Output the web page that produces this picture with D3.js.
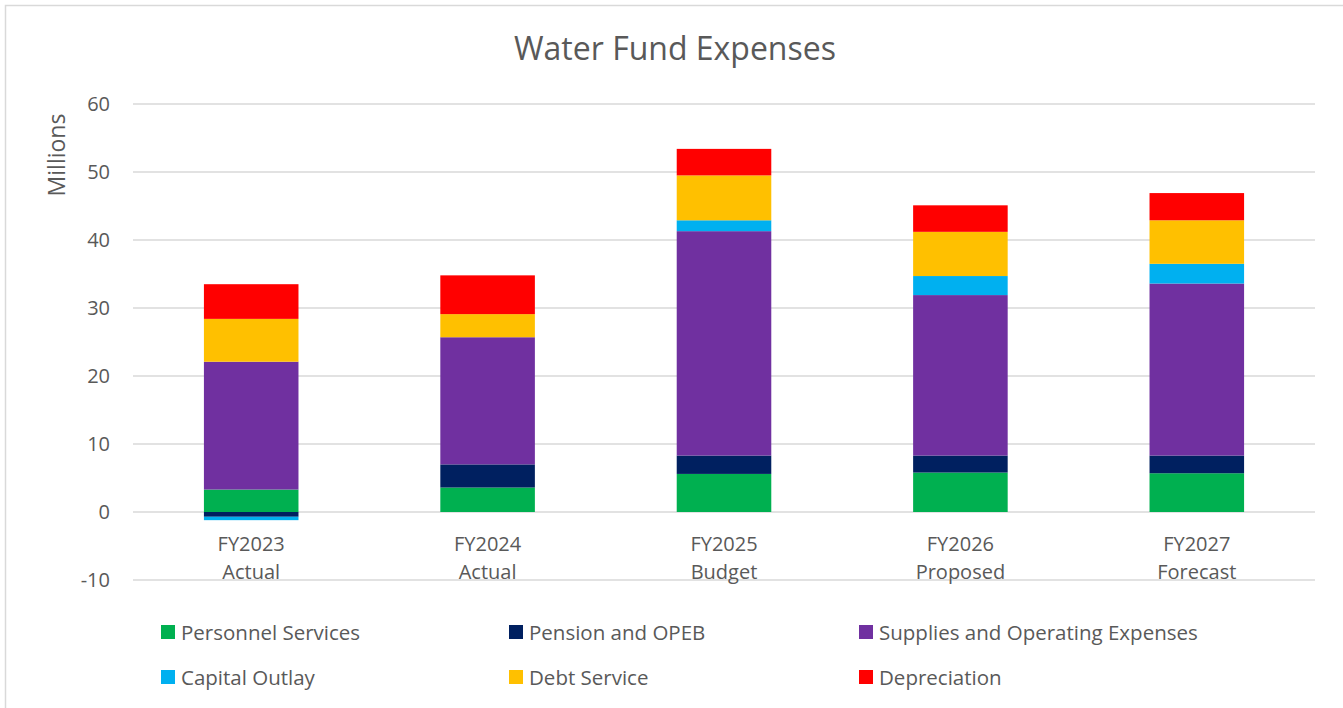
<!DOCTYPE html>
<html>
<head>
    <meta charset="utf-8">
    <title>Water Fund Expenses</title>
    <style>
        body {
            margin: 0;
            padding: 0;
            background: #fff;
            font-family: "Open Sans", sans-serif;
        }
        #chart {
            width: 1343px;
            height: 708px;
        }
    </style>
</head>
<body>
    <div id="chart"></div>

    <script src="https://d3js.org/d3.v7.min.js"></script>
    <script>
        // values in millions
        const categories = ['FY2023|Actual', 'FY2024|Actual', 'FY2025|Budget', 'FY2026|Proposed', 'FY2027|Forecast'];
        const personnel = [3.3, 3.6, 5.6, 5.8, 5.7];
        const pension = [-0.7, 3.4, 2.7, 2.5, 2.6];
        const supplies = [18.8, 18.7, 33.0, 23.6, 25.3];
        const capital = [-0.5, 0, 1.6, 2.8, 2.9];
        const debt = [6.3, 3.4, 6.6, 6.5, 6.4];
        const depreciation = [5.1, 5.7, 3.9, 3.9, 4.0];
        const seriesNames = ['Personnel Services', 'Pension and OPEB', 'Supplies and Operating Expenses',
                             'Capital Outlay', 'Debt Service', 'Depreciation'];
        const yTicks = [-10, 0, 10, 20, 30, 40, 50, 60];

        const colors = ['#00b050', '#002060', '#7030a0', '#00b0f0', '#ffc000', '#ff0000'];
        const allSeries = [personnel, pension, supplies, capital, debt, depreciation];

        const rows = categories.map((c, i) => {
            const r = { cat: c };
            seriesNames.forEach((s, j) => { r[s] = allSeries[j][i]; });
            return r;
        });

        const width = 1343, height = 708;
        const margin = { left: 133, right: 28, top: 104, bottom: 128 };
        const font = '"Open Sans", sans-serif';

        const svg = d3.select('#chart').append('svg')
            .attr('width', width)
            .attr('height', height)
            .attr('font-family', font);

        // outer chart border
        svg.append('rect')
            .attr('x', 5.5).attr('y', 5.5)
            .attr('width', width + 10).attr('height', height + 10)
            .attr('fill', 'none')
            .attr('stroke', '#d9d9d9')
            .attr('stroke-width', 1.5);

        const x = d3.scaleBand()
            .domain(categories)
            .range([margin.left, width - margin.right])
            .paddingInner(0.6)
            .paddingOuter(0.3);

        const y = d3.scaleLinear()
            .domain([-10, 60])
            .range([height - margin.bottom, margin.top]);

        // gridlines
        svg.append('g')
            .selectAll('line')
            .data(yTicks)
            .enter().append('line')
            .attr('x1', margin.left)
            .attr('x2', width - margin.right)
            .attr('y1', d => y(d))
            .attr('y2', d => y(d))
            .attr('stroke', '#d9d9d9')
            .attr('stroke-width', 1.5);

        // y tick labels
        const yAxis = svg.append('g')
            .attr('transform', `translate(${margin.left - 23},0)`)
            .call(d3.axisLeft(y).tickValues(yTicks).tickFormat(d => String(d)).tickSize(0).tickPadding(0));
        yAxis.select('.domain').remove();
        yAxis.selectAll('text')
            .attr('font-family', font)
            .attr('font-size', 20)
            .attr('fill', '#595959');

        // stacked bars
        const stack = d3.stack()
            .keys(seriesNames)
            .offset(d3.stackOffsetDiverging);
        const layers = stack(rows);

        svg.append('g')
            .selectAll('g')
            .data(layers)
            .enter().append('g')
            .attr('fill', (d, i) => colors[i])
            .selectAll('rect')
            .data(d => d)
            .enter().append('rect')
            .attr('x', d => x(d.data.cat))
            .attr('width', x.bandwidth())
            .attr('y', d => y(Math.max(d[0], d[1])))
            .attr('height', d => Math.abs(y(d[0]) - y(d[1])));

        // category labels (two lines)
        const catText = svg.append('g')
            .selectAll('text')
            .data(categories)
            .enter().append('text')
            .attr('x', d => x(d) + x.bandwidth() / 2)
            .attr('y', 551)
            .attr('text-anchor', 'middle')
            .attr('font-size', 20)
            .attr('fill', '#595959');
        catText.each(function(d) {
            const parts = d.split('|');
            d3.select(this).selectAll('tspan')
                .data(parts)
                .enter().append('tspan')
                .attr('x', x(d) + x.bandwidth() / 2)
                .attr('dy', (p, i) => i === 0 ? 0 : 28)
                .text(p => p);
        });

        // title
        svg.append('text')
            .attr('x', 675)
            .attr('y', 60)
            .attr('text-anchor', 'middle')
            .attr('font-size', 32)
            .attr('fill', '#595959')
            .text('Water Fund Expenses');

        // axis title
        svg.append('text')
            .attr('transform', 'translate(65,155) rotate(-90)')
            .attr('text-anchor', 'middle')
            .attr('font-size', 23)
            .attr('fill', '#595959')
            .text('Millions');

        // legend
        const legendX = [161, 509, 859];
        const legendY = [632, 677];
        const legend = svg.append('g')
            .selectAll('g')
            .data(seriesNames)
            .enter().append('g')
            .attr('transform', (d, i) => `translate(${legendX[i % 3]},${legendY[Math.floor(i / 3)]})`);
        legend.append('rect')
            .attr('x', 0).attr('y', -7)
            .attr('width', 14).attr('height', 14)
            .attr('fill', (d, i) => colors[i]);
        legend.append('text')
            .attr('x', 20)
            .attr('y', 7.5)
            .attr('font-size', 20.5)
            .attr('fill', '#595959')
            .text(d => d);
    </script>
</body>
</html>
